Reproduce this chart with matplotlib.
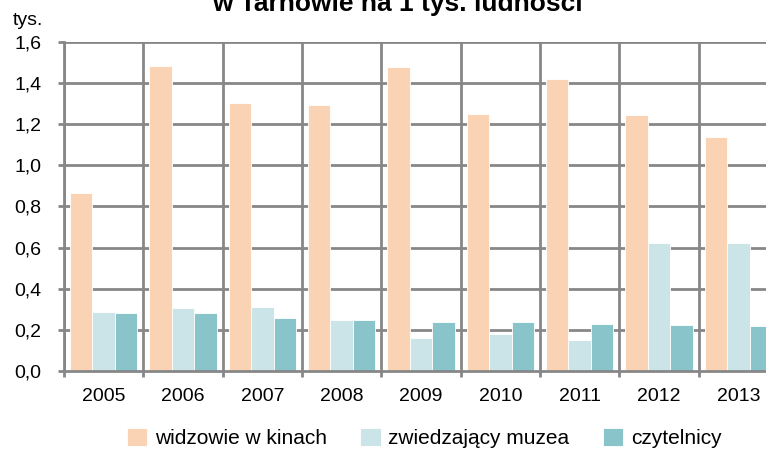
import matplotlib
matplotlib.use("Agg")
import matplotlib.pyplot as plt
import numpy as np

years = ["2005", "2006", "2007", "2008", "2009", "2010", "2011", "2012", "2013"]
kina = [0.866, 1.484, 1.304, 1.294, 1.477, 1.251, 1.418, 1.244, 1.137]
muzea = [0.289, 0.304, 0.310, 0.247, 0.159, 0.182, 0.151, 0.624, 0.624]
czytelnicy = [0.281, 0.281, 0.260, 0.247, 0.239, 0.239, 0.231, 0.224, 0.218]
series_names = ["widzowie w kinach", "zwiedzający muzea", "czytelnicy"]
colors = ["#FAD3B4", "#CBE4E8", "#88C4CA"]
yticks = [0.0, 0.2, 0.4, 0.6, 0.8, 1.0, 1.2, 1.4, 1.6]

plt.rcParams['font.family'] = ['Liberation Sans', 'DejaVu Sans']

W, H = 766, 450
fig = plt.figure(figsize=(W / 100, H / 100), dpi=100)
ax = fig.add_axes([64 / W, 1 - 371 / H, (778 - 64) / W, (371 - 42) / H])

x = np.arange(len(years))
bw = 0.283
grid_c = "#878787"
for i, (vals, c) in enumerate(zip([kina, muzea, czytelnicy], colors)):
    ax.bar(x + (i - 1) * bw, vals, width=bw, color=c, edgecolor="white",
           linewidth=0.6, zorder=3, label=series_names[i])

ax.set_xlim(-0.5, len(years) - 0.5)
ax.set_ylim(0, 1.6)
ax.set_yticks(yticks)
ax.set_yticklabels([f"{v:.1f}".replace(".", ",") for v in yticks])
ax.set_xticks(x)
ax.set_xticklabels(years)
ax.set_xticks(np.arange(-0.5, len(years), 1.0), minor=True)

ax.grid(False)
for v in yticks[1:]:
    ax.axhline(v, color=grid_c, linewidth=2.0, zorder=1)
for b in np.arange(-0.5, len(years), 1.0):
    ax.axvline(b, color=grid_c, linewidth=2.0, zorder=1)

for s in ["top", "right"]:
    ax.spines[s].set_visible(False)
for s in ["left", "bottom"]:
    ax.spines[s].set_color(grid_c)
    ax.spines[s].set_linewidth(2.0)
    ax.spines[s].set_zorder(4)

ax.tick_params(axis="y", which="major", length=4.3, width=2.0, color=grid_c,
               labelsize=14, pad=12)
ax.tick_params(axis="x", which="major", length=0, labelsize=14, pad=12)
ax.tick_params(axis="x", which="minor", length=4, width=2.0, color=grid_c)

fig.text(397 / W, 1 - 11 / H, "w Tarnowie na 1 tys. ludności", ha="center",
         va="baseline", fontsize=19, fontweight="bold")
fig.text(13 / W, 1 - 25 / H, "tys.", ha="left", va="baseline", fontsize=14)

fig.legend(loc="center", bbox_to_anchor=(424 / W, 1 - 438 / H), ncol=3,
           frameon=False, fontsize=15, handlelength=1.0, handleheight=1.0,
           handletextpad=0.35, columnspacing=1.6, borderpad=0, borderaxespad=0)

fig.savefig("out.png", dpi=100)
